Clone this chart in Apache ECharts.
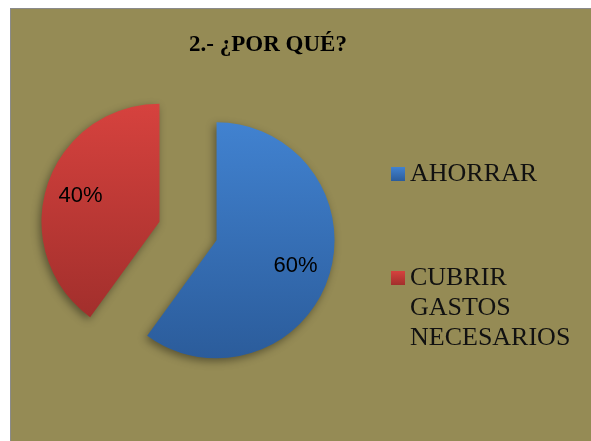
<!DOCTYPE html>
<html>
<head>
<meta charset="utf-8">
<script src="https://cdn.jsdelivr.net/npm/echarts@6/dist/echarts.min.js"></script>
<style>
  body { margin: 0; background: #fff; }
  #frame { position: absolute; left: 10px; top: 8px; width: 590px; height: 440px; background: #958b55; border-left: 1px solid #8a8a8a; border-top: 1px solid #8a8a8a; }
  #chart { position: absolute; left: 0; top: 0; width: 591px; height: 441px; }
</style>
</head>
<body>
<div id="frame"></div>
<div id="chart"></div>
<script>
// datos
var titleText = '2.- ¿POR QUÉ?';
var categories = ['AHORRAR', 'CUBRIR GASTOS NECESARIOS'];
var values = [60, 40];
var percentLabels = ['60%', '40%'];
var topColors = ['#4182d0', '#d6423e'];
var bottomColors = ['#2b5c9b', '#a22f2c'];

var chart = echarts.init(document.getElementById('chart'));

function grad(i) {
  return new echarts.graphic.LinearGradient(0, 0, 0, 1, [
    { offset: 0, color: topColors[i] },
    { offset: 1, color: bottomColors[i] }
  ]);
}

var pieData = [];
var labelData = [];
categories.forEach(function (name, i) {
  pieData.push({ name: name, value: values[i], selected: true, itemStyle: { color: grad(i) } });
  labelData.push({ name: name, value: values[i], selected: true });
});

var option = {
  animation: false,
  title: {
    text: titleText,
    left: 268,
    top: 34,
    textAlign: 'center',
    padding: 0,
    textStyle: { fontFamily: 'Liberation Serif', fontWeight: 'bold', fontSize: 23, color: '#000' }
  },
  legend: [
    {
      orient: 'vertical', left: 391, top: 159, padding: 0,
      icon: 'rect', itemWidth: 14, itemHeight: 14, selectedMode: false,
      itemStyle: { shadowBlur: 0 },
      data: [categories[0]],
      textStyle: { fontFamily: 'Liberation Serif', fontSize: 26, color: '#111', lineHeight: 30 }
    },
    {
      orient: 'vertical', left: 391, top: 203, padding: 0,
      icon: 'rect', itemWidth: 14, itemHeight: 14, selectedMode: false,
      itemStyle: { shadowBlur: 0 },
      data: [categories[1]],
      // dos líneas vacías arriba para que el icono quede junto a la primera línea
      formatter: function (name) { return '\n\n' + name.split(' ').join('\n'); },
      textStyle: { fontFamily: 'Liberation Serif', fontSize: 26, color: '#111', lineHeight: 30 }
    }
  ],
  series: [
    {
      type: 'pie',
      center: [188, 231],
      radius: 118,
      startAngle: 90,
      clockwise: true,
      selectedMode: 'multiple',
      selectedOffset: 30,
      silent: true,
      label: { show: false },
      labelLine: { show: false },
      itemStyle: { borderWidth: 0, shadowBlur: 8, shadowColor: 'rgba(0,0,0,0.4)', shadowOffsetX: -2, shadowOffsetY: 3 },
      data: pieData
    },
    {
      type: 'pie',
      center: [188, 231],
      radius: 160,
      startAngle: 90,
      clockwise: true,
      selectedMode: 'multiple',
      selectedOffset: 30,
      silent: true,
      itemStyle: { color: 'rgba(0,0,0,0)', borderWidth: 0 },
      label: {
        show: true,
        position: 'inside',
        fontFamily: 'Liberation Sans',
        fontSize: 22,
        color: '#000',
        formatter: function (p) { return percentLabels[p.dataIndex]; }
      },
      labelLine: { show: false },
      data: labelData
    }
  ]
};

chart.setOption(option);
</script>
</body>
</html>
